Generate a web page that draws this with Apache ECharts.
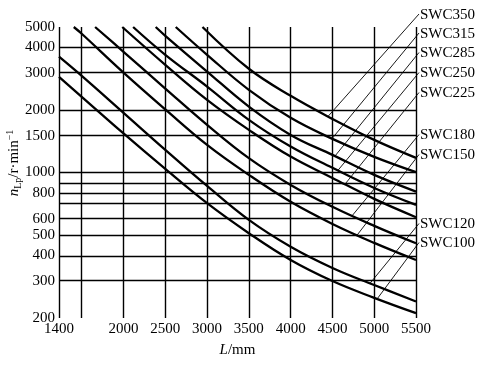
<!DOCTYPE html>
<html><head><meta charset="utf-8">
<script src="https://cdn.jsdelivr.net/npm/echarts@6/dist/echarts.min.js"></script>
<style>html,body{margin:0;padding:0;background:#fff}#c{width:481px;height:365px}</style>
</head><body><div id="c"></div>
<script>
// ---------- data ----------
const xTickLabels = [1400, 2000, 2500, 3000, 3500, 4000, 4500, 5000, 5500];
const xGridValues = [1400, 1500, 2000, 2500, 3000, 3500, 4000, 4500, 5000, 5500];
const yTickLabels = [200, 300, 400, 500, 600, 800, 1000, 1500, 2000, 3000, 4000, 5000];
const yGridValues = [200, 300, 400, 500, 600, 700, 800, 900, 1000, 1500, 2000, 3000, 4000, 5000];

const models = ['SWC100', 'SWC120', 'SWC150', 'SWC180', 'SWC225', 'SWC250', 'SWC285', 'SWC315', 'SWC350'];

const L_SWC100 = [1400, 1500, 2000, 2500, 3000, 3500, 4000, 4500, 5000, 5500];
const n_SWC100 = [2880, 2310, 1540, 1040, 712, 511, 380, 301, 250, 211];
const L_SWC120 = [1400, 1500, 2000, 2500, 3000, 3500, 4000, 4500, 5000, 5500];
const n_SWC120 = [3600, 2910, 1935, 1285, 862, 592, 440, 348, 288, 240];
const L_SWC150 = [1465, 1500, 2000, 2500, 3000, 3500, 4000, 4500, 5000, 5500];
const n_SWC150 = [5000, 4640, 3020, 2010, 1357, 974, 723, 566, 459, 380];
const L_SWC180 = [1660, 2000, 2500, 3000, 3500, 4000, 4500, 5000, 5500];
const n_SWC180 = [5000, 3800, 2530, 1694, 1172, 872, 684, 554, 457];
const L_SWC225 = [1985, 2500, 3000, 3500, 4000, 4500, 5000, 5500];
const n_SWC225 = [5000, 3290, 2234, 1603, 1193, 942, 747, 610];
const L_SWC250 = [2115, 2500, 3000, 3500, 4000, 4500, 5000, 5500];
const n_SWC250 = [5000, 3677, 2588, 1791, 1333, 1053, 843, 699];
const L_SWC285 = [2385, 2500, 3000, 3500, 4000, 4500, 5000, 5500];
const n_SWC285 = [5000, 4538, 3056, 2073, 1516, 1215, 974, 810];
const L_SWC315 = [2625, 3000, 3500, 4000, 4500, 5000, 5500];
const n_SWC315 = [5000, 3677, 2496, 1831, 1451, 1189, 1004];
const L_SWC350 = [2945, 3500, 4000, 4500, 5000, 5500];
const n_SWC350 = [5000, 3150, 2335, 1810, 1435, 1176];

// leader line anchor on each curve (L in mm), same order as models
const leaderAnchorL = [5035, 4950, 4795, 4735, 4650, 4565, 4530, 4495, 4447];

// ---------- layout / style ----------
const FONT = '"Liberation Serif", "Times New Roman", serif';
const labelX = 420;
const labelYpx = [243.5, 224.5, 155.5, 135.5, 93.5, 73.5, 53.5, 34, 15];

const curveL = [L_SWC100, L_SWC120, L_SWC150, L_SWC180, L_SWC225, L_SWC250, L_SWC285, L_SWC315, L_SWC350];
const curveN = [n_SWC100, n_SWC120, n_SWC150, n_SWC180, n_SWC225, n_SWC250, n_SWC285, n_SWC315, n_SWC350];

// x axis: uniform above 1500 mm, first interval 1400-1500 stretched as in the original figure
const X_BREAK = 1500, X_STRETCH = 2.72;
function xPos(L) { return L >= X_BREAK ? L : X_BREAK - (X_BREAK - L) * X_STRETCH; }
function xInv(v) { return v >= X_BREAK ? v : X_BREAK - (X_BREAK - v) / X_STRETCH; }
const yPos = v => Math.log10(v);

const chart = echarts.init(document.getElementById('c'), null, {renderer: 'canvas'});

const series = [];
series.push({
  type: 'line', name: 'grid', data: [[xPos(1400), yPos(200)]], showSymbol: false,
  lineStyle: {opacity: 0}, silent: true, clip: false, z: 1,
  markLine: {
    silent: true, symbol: ['none', 'none'], animation: false,
    label: {show: false},
    lineStyle: {color: '#000', width: 1.4, type: 'solid'},
    emphasis: {disabled: true},
    data: [
      ...xGridValues.map(v => ({xAxis: xPos(v)})),
      ...yGridValues.map(v => ({yAxis: yPos(v)}))
    ]
  }
});
models.forEach((m, i) => {
  series.push({
    type: 'line', name: m,
    data: curveL[i].map((l, k) => [xPos(l), yPos(curveN[i][k])]),
    showSymbol: false, smooth: 0.4, clip: true, z: 3,
    lineStyle: {color: '#000', width: 2.3},
    silent: true
  });
});

chart.setOption({
  animation: false,
  backgroundColor: '#fff',
  grid: {left: 59, right: 65, top: 27, bottom: 47, outerBoundsMode: 'none'},
  xAxis: {
    type: 'value', min: xPos(1400), max: 5500,
    axisLine: {show: false}, axisTick: {show: false}, splitLine: {show: false},
    axisLabel: {
      customValues: xTickLabels.map(xPos),
      formatter: v => String(Math.round(xInv(v))),
      fontFamily: FONT, fontSize: 15, color: '#000', margin: 4
    },
    name: '{i|L}/mm', nameLocation: 'middle', nameGap: 25,
    nameTextStyle: {fontFamily: FONT, fontSize: 15, color: '#000',
      rich: {i: {fontFamily: FONT, fontSize: 15, fontStyle: 'italic', color: '#000'}}}
  },
  yAxis: {
    type: 'value', min: yPos(200), max: yPos(5000),
    axisLine: {show: false}, axisTick: {show: false}, splitLine: {show: false},
    axisLabel: {
      customValues: yTickLabels.map(yPos),
      formatter: v => String(Math.round(Math.pow(10, v))),
      fontFamily: FONT, fontSize: 15, color: '#000', margin: 4
    }
  },
  series: series
});

// labels, leader lines and y-axis name
const graphics = [];
models.forEach((m, i) => {
  const Ls = curveL[i], Ns = curveN[i];
  const a = xPos(leaderAnchorL[i]);
  let ly = yPos(Ns[Ns.length - 1]);
  for (let k = 0; k < Ls.length - 1; k++) {
    const x0 = xPos(Ls[k]), x1 = xPos(Ls[k + 1]);
    if (a >= x0 && a <= x1) {
      const t = (a - x0) / (x1 - x0);
      ly = yPos(Ns[k]) + t * (yPos(Ns[k + 1]) - yPos(Ns[k]));
      break;
    }
  }
  const p = chart.convertToPixel({gridIndex: 0}, [a, ly]);
  graphics.push({
    type: 'line', silent: true, z: 10,
    shape: {x1: p[0], y1: p[1], x2: labelX - 1, y2: labelYpx[i] - 1},
    style: {stroke: '#000', lineWidth: 0.9}
  });
  graphics.push({
    type: 'text', silent: true, z: 10, x: labelX, y: labelYpx[i],
    style: {text: m, fontFamily: FONT, fontSize: 15, fill: '#000', align: 'left', verticalAlign: 'middle'}
  });
});
graphics.push({
  type: 'text', silent: true, x: 14, y: 163, rotation: Math.PI / 2,
  style: {
    text: '{i|n}{s|Lp}{b|/r·min}{p|−1}',
    align: 'center', verticalAlign: 'middle', fill: '#000',
    fontFamily: FONT, fontSize: 15,
    rich: {
      i: {fontFamily: FONT, fontSize: 15, fontStyle: 'italic', lineHeight: 18, fill: '#000'},
      b: {fontFamily: FONT, fontSize: 15, lineHeight: 18, fill: '#000'},
      s: {fontFamily: FONT, fontSize: 10, verticalAlign: 'bottom', fill: '#000'},
      p: {fontFamily: FONT, fontSize: 10, verticalAlign: 'top', fill: '#000'}
    }
  }
});
chart.setOption({graphic: graphics});
</script>
</body></html>
